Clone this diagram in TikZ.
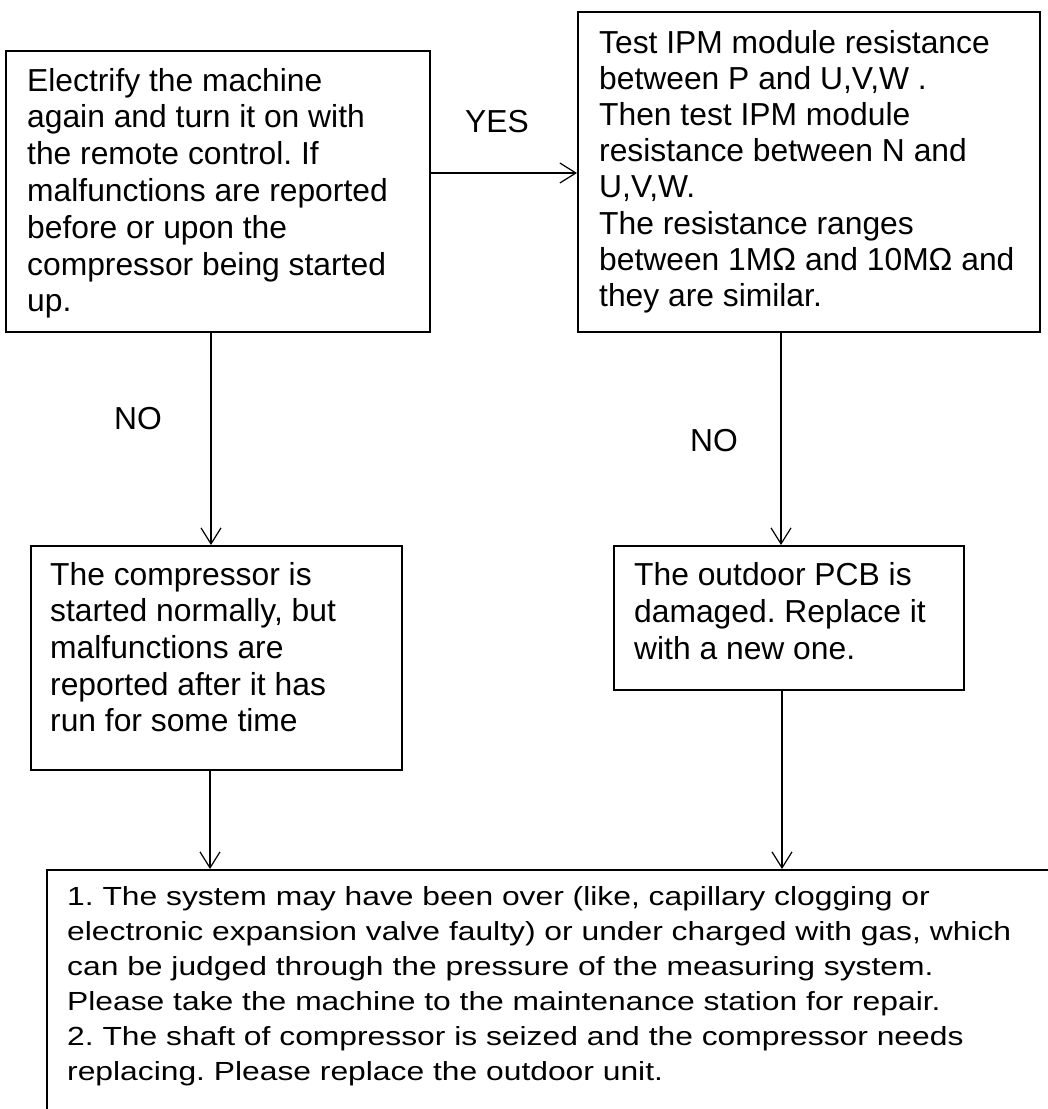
\documentclass[tikz,border=0pt]{standalone}
\usepackage{fontspec}
\setmainfont{Liberation Sans}
\newfontfamily\widefont[FakeStretch=1.214]{Liberation Sans}
\usetikzlibrary{arrows.meta}
\frenchspacing
\begin{document}
\begin{tikzpicture}[x=1pt,y=-1pt,
  box/.style={draw, line width=1.6pt, inner sep=0pt, anchor=north west},
  conn/.style={line width=1.2pt},
  arr/.style={conn, -{Straight Barb[length=16pt,width=20pt,line width=1.2pt]}},
  lbl/.style={inner sep=0pt, anchor=base, font=\fontsize{31.8}{37}\selectfont},
  txt/.style={inner sep=0pt, anchor=base west}]
\useasboundingbox (0,0) rectangle (1048,1109);
% boxes
\node[box, minimum width=424pt, minimum height=281pt] (A) at (5,50) {};
\node[box, minimum width=462pt, minimum height=320pt] (B) at (577,11) {};
\node[box, minimum width=371pt, minimum height=224pt] (C) at (30,545) {};
\node[box, minimum width=350pt, minimum height=144pt] (D) at (613,545) {};
\node[box, minimum width=1040pt, minimum height=300pt] (E) at (46,869) {};
% texts
\node[txt] (At) at (27,91) {\parbox[t]{400pt}{\fontsize{31.8}{36.8}\selectfont\frenchspacing
Electrify the machine\\
again and turn it on with\\
the remote control. If\\
malfunctions are reported\\
before or upon the\\
compressor being started\\
up.}};
\node[txt] (Bt) at (599,53) {\parbox[t]{440pt}{\fontsize{31.8}{36.2}\selectfont\frenchspacing
Test IPM module resistance\\
between P and U,V,W .\\
Then test IPM module\\
resistance between N and\\
U,V,W.\\
The resistance ranges\\
between 1MΩ and 10MΩ and\\
they are similar.}};
\node[txt] (Ct) at (50,585) {\parbox[t]{350pt}{\fontsize{31.8}{36.7}\selectfont\frenchspacing
The compressor is\\
started normally, but\\
malfunctions are\\
reported after it has\\
run for some time}};
\node[txt] (Dt) at (634,585) {\parbox[t]{330pt}{\fontsize{31.8}{37}\selectfont\frenchspacing
The outdoor PCB is\\
damaged. Replace it\\
with a new one.}};
\node[txt] (Et) at (67,905) {\parbox[t]{990pt}{\fontsize{26.2}{35}\widefont\frenchspacing
1. The system may have been over (like, capillary clogging or\\
electronic expansion valve faulty) or under charged with gas, which\\
can be judged through the pressure of the measuring system.\\
Please take the machine to the maintenance station for repair.\\
2. The shaft of compressor is seized and the compressor needs\\
replacing. Please replace the outdoor unit.}};
% labels
\node[lbl] (yes) at (497,132) {YES};
\node[lbl] (no1) at (138,429) {NO};
\node[lbl] (no2) at (714,451) {NO};
% helper coordinates
\coordinate (yy) at (0,173);
\coordinate (lx) at (211,0);
\coordinate (rx) at (781,0);
\coordinate (llx) at (210,0);
\coordinate (rrx) at (782,0);
% connectors
\draw[arr] (A.east |- yy) -- (B.west |- yy);
\draw[arr] (A.south -| lx) -- (C.north -| lx);
\draw[arr] (B.south -| rx) -- (D.north -| rx);
\draw[arr] (C.south -| llx) -- (E.north -| llx);
\draw[arr] (D.south -| rrx) -- (E.north -| rrx);
\end{tikzpicture}
\end{document}
